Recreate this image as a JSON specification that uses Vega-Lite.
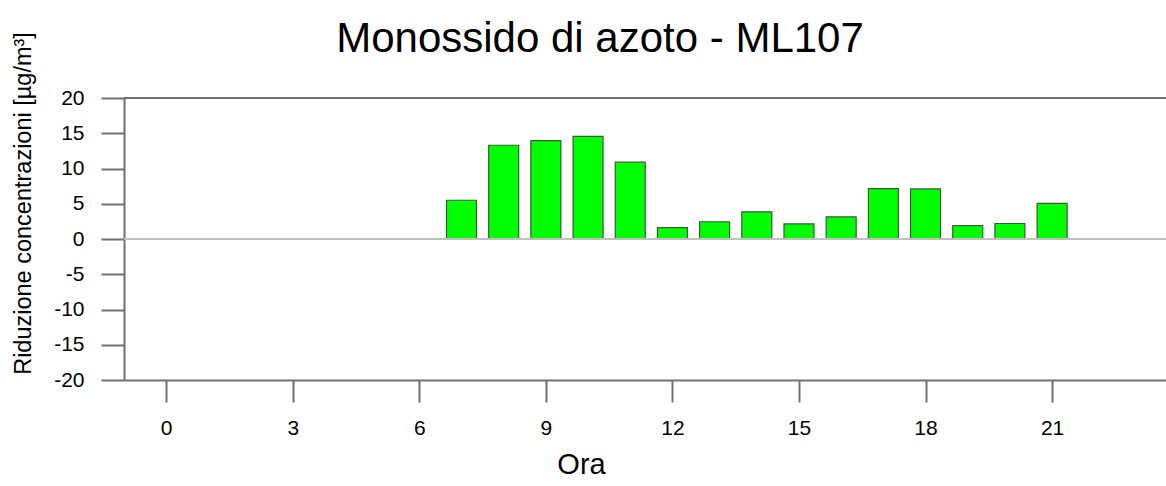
{
  "$schema": "https://vega.github.io/schema/vega-lite/v6.json",
  "autosize": {"type": "none"},
  "width": 1042,
  "height": 282,
  "padding": {"left": 124, "top": 98, "right": 0, "bottom": 106},
  "background": "white",
  "title": {
    "text": "Monossido di azoto - ML107",
    "font": "Liberation Sans",
    "fontSize": 42,
    "fontWeight": "normal",
    "color": "black",
    "anchor": "middle",
    "dx": -45,
    "dy": 29,
    "offset": 0
  },
  "config": {
    "view": {"stroke": null},
    "axis": {
      "labelFont": "Liberation Sans",
      "titleFont": "Liberation Sans",
      "labelColor": "black",
      "titleColor": "black",
      "titleFontWeight": "normal",
      "domainColor": "#707070",
      "tickColor": "#707070",
      "domainWidth": 2,
      "tickWidth": 2,
      "grid": false,
      "labelOverlap": false
    }
  },
  "data": {
    "values": [
      {"ora": 7, "valore": 5.5},
      {"ora": 8, "valore": 13.3},
      {"ora": 9, "valore": 13.95},
      {"ora": 10, "valore": 14.55},
      {"ora": 11, "valore": 10.9},
      {"ora": 12, "valore": 1.6},
      {"ora": 13, "valore": 2.45},
      {"ora": 14, "valore": 3.85},
      {"ora": 15, "valore": 2.15},
      {"ora": 16, "valore": 3.15},
      {"ora": 17, "valore": 7.15},
      {"ora": 18, "valore": 7.1},
      {"ora": 19, "valore": 1.9},
      {"ora": 20, "valore": 2.2},
      {"ora": 21, "valore": 5.05}
    ]
  },
  "encoding": {
    "y": {
      "field": "valore",
      "type": "quantitative",
      "scale": {"domain": [-20, 20], "nice": false, "padding": 0},
      "axis": {
        "title": "Riduzione concentrazioni [µg/m³]",
        "values": [-20, -15, -10, -5, 0, 5, 10, 15, 20],
        "tickCount": 9,
        "labelExpr": "'' + datum.value",
        "tickSize": 23,
        "labelFontSize": 21,
        "labelPadding": 17,
        "titleFontSize": 23.5,
        "titlePadding": 18,
        "titleY": 105,
        "labelFlush": false
      }
    }
  },
  "layer": [
    {
      "mark": {"type": "bar", "size": 30, "fill": "#00ff00", "stroke": "#3c5a3c", "strokeWidth": 1.2},
      "encoding": {
        "x": {
          "field": "ora",
          "type": "quantitative",
          "scale": {"domain": [-1, 23.7], "nice": false, "zero": false, "padding": 0},
          "axis": {
            "title": "Ora",
            "values": [0, 3, 6, 9, 12, 15, 18, 21],
            "labelExpr": "'' + datum.value",
            "tickSize": 22,
            "labelFontSize": 21,
            "labelPadding": 15,
            "titleFontSize": 29,
            "titlePadding": 12,
            "titleX": 457,
            "labelFlush": false
          }
        }
      }
    },
    {
      "data": {"values": [{"valore": 0}]},
      "mark": {"type": "rule", "color": "#c0c0c0", "strokeWidth": 2}
    },
    {
      "data": {"values": [{"valore": 20}]},
      "mark": {"type": "rule", "color": "#707070", "strokeWidth": 2}
    }
  ]
}
